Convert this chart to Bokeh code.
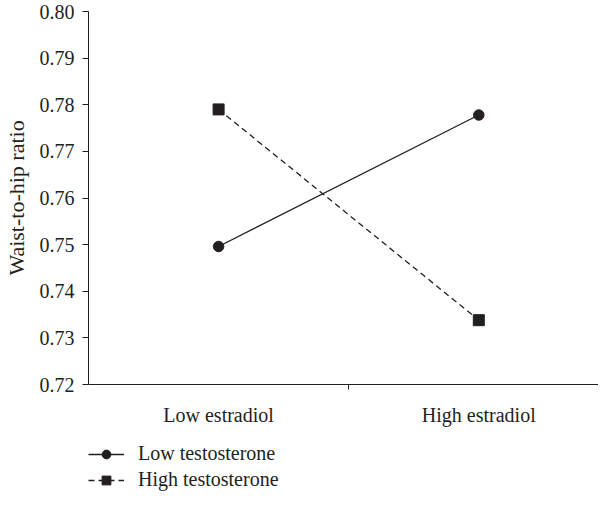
from bokeh.plotting import figure
from bokeh.layouts import column
from bokeh.models import Range1d, FixedTicker, Legend, LegendItem
from bokeh.embed import file_html
from bokeh.resources import INLINE

categories = ["Low estradiol", "High estradiol"]
low_testosterone = [0.7496, 0.7778]
high_testosterone = [0.7790, 0.7338]
y_ticks = [0.72, 0.73, 0.74, 0.75, 0.76, 0.77, 0.78, 0.79, 0.80]
series_names = ["Low testosterone", "High testosterone"]

INK = "#231f20"
FONT = "Liberation Serif"
FS = "20px"

xs = [i + 0.5 for i in range(len(categories))]


def add_series(fig):
    r1 = fig.line(xs, low_testosterone, line_color=INK, line_width=1.3)
    s1 = fig.scatter(xs, low_testosterone, marker="circle", size=10.5, fill_color=INK, line_color=INK)
    r2 = fig.line(xs, high_testosterone, line_color=INK, line_width=1.3, line_dash="6 4")
    s2 = fig.scatter(xs, high_testosterone, marker="square", size=11, fill_color=INK, line_color=INK)
    return (r1, s1), (r2, s2)


p = figure(width=598, height=428, output_backend="svg", toolbar_location=None,
           x_range=Range1d(0, 1.96), y_range=Range1d(0.72, 0.80),
           min_border_left=79, min_border_top=11, min_border_right=0,
           min_border_bottom=42)
p.outline_line_color = None
p.xgrid.visible = False
p.ygrid.visible = False
add_series(p)

# y axis
ya = p.yaxis[0]
ya.ticker = FixedTicker(ticks=y_ticks)
ya.major_label_overrides = {t: f"{t:.2f}" for t in y_ticks}
ya.axis_label = "Waist-to-hip ratio"
ya.axis_label_text_font = FONT
ya.axis_label_text_font_style = "normal"
ya.axis_label_text_font_size = "22px"
ya.axis_label_text_color = INK
ya.axis_label_standoff = 8
ya.major_label_text_font = FONT
ya.major_label_text_font_size = FS
ya.major_label_text_color = INK
ya.major_label_standoff = 8
ya.major_tick_out = 6
ya.major_tick_in = 0
ya.minor_tick_line_color = None
ya.axis_line_color = INK
ya.major_tick_line_color = INK

# x axis
xa = p.xaxis[0]
xa.ticker = FixedTicker(ticks=xs, minor_ticks=[1.0])
xa.major_label_overrides = {x: c for x, c in zip(xs, categories)}
xa.major_label_text_font = FONT
xa.major_label_text_font_size = FS
xa.major_label_text_color = INK
xa.major_label_standoff = 14
xa.major_tick_line_color = None
xa.major_tick_out = 0
xa.major_tick_in = 0
xa.minor_tick_line_color = INK
xa.minor_tick_out = 5
xa.minor_tick_in = 0
xa.axis_line_color = INK

# legend panel
lg = figure(width=598, height=63, output_backend="svg", toolbar_location=None,
            x_range=Range1d(0, 1), y_range=Range1d(10, 11),
            x_axis_location=None, y_axis_location=None,
            min_border_left=79, min_border_right=0, min_border_top=14, min_border_bottom=0)
lg.outline_line_color = None
lg.xgrid.visible = False
lg.ygrid.visible = False
a, b = add_series(lg)

legend = Legend(items=[LegendItem(label=series_names[0], renderers=list(a)),
                       LegendItem(label=series_names[1], renderers=list(b))],
                location="top_left", orientation="vertical")
legend.border_line_color = None
legend.background_fill_alpha = 0
legend.padding = 0
legend.margin = 0
legend.spacing = 3
legend.glyph_width = 36
legend.glyph_height = 22
legend.label_standoff = 14
legend.label_text_font = FONT
legend.label_text_font_size = FS
legend.label_text_color = INK
lg.add_layout(legend, "center")

layout = column(p, lg, spacing=0)
open("out.html", "w").write(file_html(layout, INLINE))
